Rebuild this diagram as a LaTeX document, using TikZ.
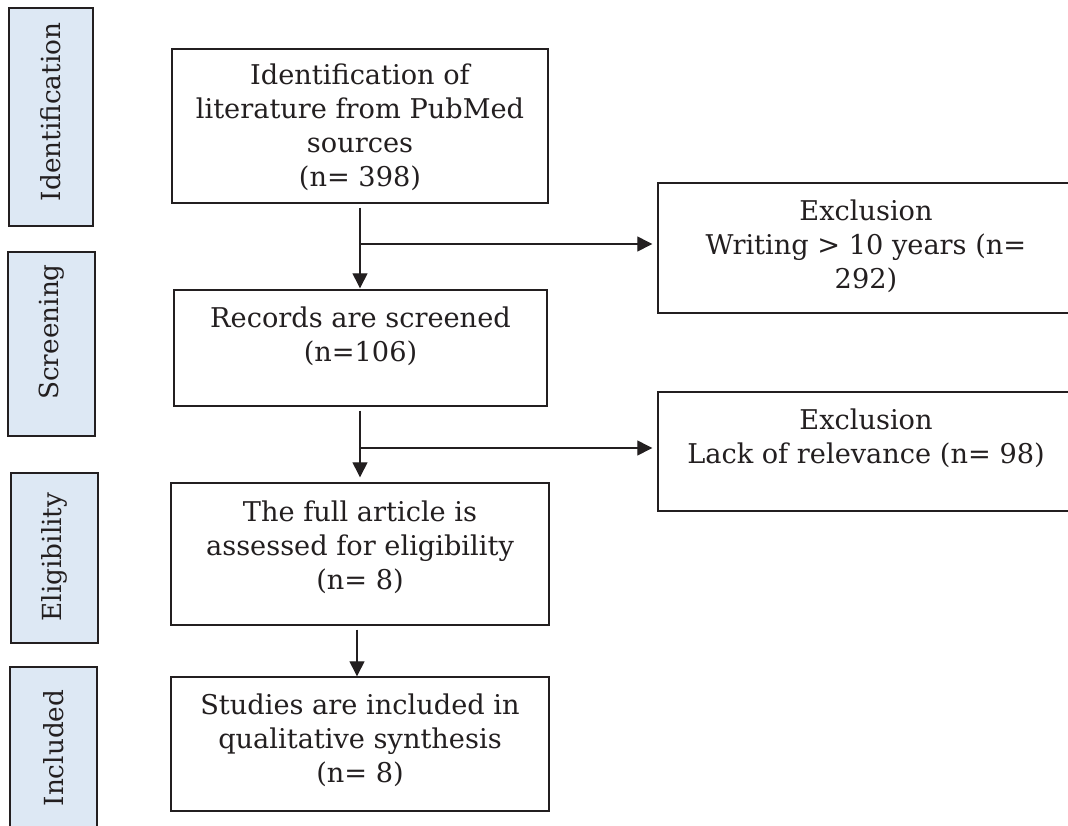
\documentclass[tikz,border=0pt]{standalone}
\usepackage{fontspec}
\setmainfont{DejaVu Serif}
\usetikzlibrary{arrows.meta}
\definecolor{sidefill}{HTML}{DDE8F4}
\definecolor{edge}{HTML}{231F20}
\tikzset{
  box/.style={draw=edge, line width=1.4pt, fill=white, inner sep=0pt},
  side/.style={draw=edge, line width=1.6pt, fill=sidefill, inner sep=0pt},
  sidetext/.style={rotate=90, font=\fontsize{26.3}{32}\selectfont, text=edge},
  txt/.style={align=center, font=\fontsize{27.2}{34}\selectfont, text=edge, inner sep=0pt},
  arr/.style={draw=edge, line width=1.3pt, -{Triangle[length=15pt,width=15pt]}},
  ln/.style={draw=edge, line width=1.3pt}
}
\begin{document}
\begin{tikzpicture}[x=1pt,y=-1pt]
\useasboundingbox (0,0) rectangle (1068,825);
\clip (0,0) rectangle (1068,825);
% side labels
\node[side, minimum width=84pt, minimum height=218pt] (s1) at (51,117) {};
\node[sidetext] (s1t) at (51,112) {Identification};
\node[side, minimum width=87pt, minimum height=184pt] (s2) at (51.5,344) {};
\node[sidetext] (s2t) at (51.5,332) {Screening};
\node[side, minimum width=87pt, minimum height=170pt] (s3) at (54.5,558) {};
\node[sidetext] (s3t) at (54.5,557) {Eligibility};
\node[side, minimum width=87pt, minimum height=190pt] (s4) at (53.5,762) {};
\node[sidetext] (s4t) at (53.5,748) {Included};
% main boxes
\node[box, minimum width=376pt, minimum height=154pt] (b1) at (360,126) {};
\node[txt] (b1t) at (360,127) {Identification of\\literature from PubMed\\sources\\(n= 398)};
\node[box, minimum width=373pt, minimum height=116pt] (b2) at (360.5,348) {};
\node[txt] (b2t) at (360.5,336) {Records are screened\\(n=106)};
\node[box, minimum width=378pt, minimum height=142pt] (b3) at (360,554) {};
\node[txt] (b3t) at (360,547) {The full article is\\assessed for eligibility\\(n= 8)};
\node[box, minimum width=378pt, minimum height=134pt] (b4) at (360,744) {};
\node[txt] (b4t) at (360,740) {Studies are included in\\qualitative synthesis\\(n= 8)};
% exclusion boxes
\node[box, minimum width=416pt, minimum height=130pt] (e1) at (866,248) {};
\node[txt] (e1t) at (866,246) {Exclusion\\Writing > 10 years (n=\\292)};
\node[box, minimum width=416pt, minimum height=119pt] (e2) at (866,451.5) {};
\node[txt] (e2t) at (866,438) {Exclusion\\Lack of relevance (n= 98)};
% connectors
\coordinate (j1) at (360,244);
\coordinate (j2) at (360,448);
\draw[arr] ([yshift=-4pt]b1.south -| j1) -- ([yshift=1pt]b2.north -| j1);
\draw[arr] (j1) -- ([xshift=-5pt]j1 -| e1.west);
\draw[arr] ([yshift=-4pt]b2.south -| j2) -- ([yshift=5pt]b3.north -| j2);
\draw[arr] (j2) -- ([xshift=-5pt]j2 -| e2.west);
\draw[arr] ([yshift=-4pt,xshift=-3pt]b3.south) -- ([xshift=-3pt]b4.north);
\end{tikzpicture}
\end{document}
